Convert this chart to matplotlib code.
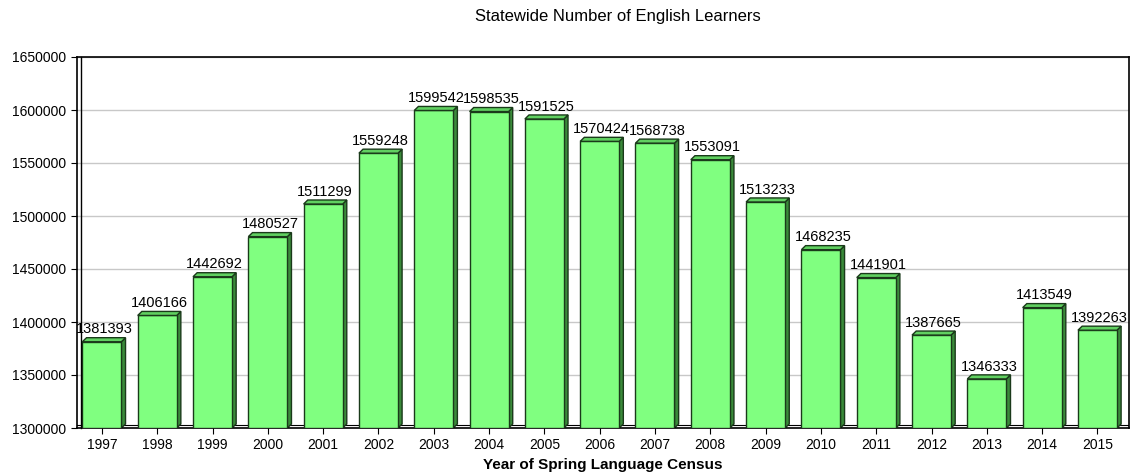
import matplotlib.pyplot as plt
from matplotlib.patches import Polygon
import numpy as np

years = ['1997', '1998', '1999', '2000', '2001', '2002', '2003', '2004', '2005', '2006',
         '2007', '2008', '2009', '2010', '2011', '2012', '2013', '2014', '2015']
learners = [1381393, 1406166, 1442692, 1480527, 1511299, 1559248, 1599542, 1598535, 1591525,
            1570424, 1568738, 1553091, 1513233, 1468235, 1441901, 1387665, 1346333, 1413549,
            1392263]
ymin, ymax = 1300000, 1650000

plt.rcParams['font.family'] = ['Liberation Sans', 'DejaVu Sans']

fig = plt.figure(figsize=(11.36, 4.75), dpi=100)
ax = fig.add_axes([77 / 1136, 1 - 428 / 475, 1052 / 1136, 371 / 475])

x = np.arange(len(years))
w = 0.705
dx, dy = 0.075, 3800  # fake 3d depth

ax.bar(x, np.array(learners) - ymin, bottom=ymin, width=w, color='#80ff80',
       edgecolor='#1a3a1a', linewidth=1, zorder=3)
for xi, v in zip(x, learners):
    l, r = xi - w / 2, xi + w / 2
    top = Polygon([(l, v), (l + dx, v + dy), (r + dx, v + dy), (r, v)],
                  closed=True, facecolor='#60d060', edgecolor='#1a3a1a', lw=1, zorder=3)
    side = Polygon([(r, v), (r + dx, v + dy), (r + dx, ymin + dy), (r, ymin)],
                   closed=True, facecolor='#3a8a3a', edgecolor='#1a3a1a', lw=1, zorder=2)
    ax.add_patch(top)
    ax.add_patch(side)
    ax.text(xi + dx / 2, v + dy + 1200, str(v), ha='center', va='bottom', fontsize=10.5, zorder=4)

ax.set_xlim(-0.45, 18.57)
ax.set_ylim(ymin, ymax)
ax.set_xticks(x)
ax.set_xticklabels(years, fontsize=10)
ax.set_yticks(np.arange(ymin, ymax + 1, 50000))
ax.set_yticklabels([str(v) for v in range(ymin, ymax + 1, 50000)], fontsize=10)
ax.yaxis.grid(True, color='#c8c8c8', lw=1, zorder=0)
ax.set_axisbelow(True)
ax.tick_params(length=4, color='black')
for s in ax.spines.values():
    s.set_linewidth(1.2)
# inner wall line for the 3d look
ax.plot([0.004, 0.004], [0, 1], transform=ax.transAxes, color='black', lw=1, zorder=5,
        clip_on=False)
ax.plot([0, 1], [0.008, 0.008], transform=ax.transAxes, color='black', lw=0.8, zorder=1)

ax.set_xlabel('Year of Spring Language Census', fontsize=11, fontweight='bold', labelpad=4)
fig.text(618 / 1136, 1 - 17 / 475, 'Statewide Number of English Learners', ha='center',
         va='center', fontsize=12)

fig.savefig('out.png', dpi=100)
